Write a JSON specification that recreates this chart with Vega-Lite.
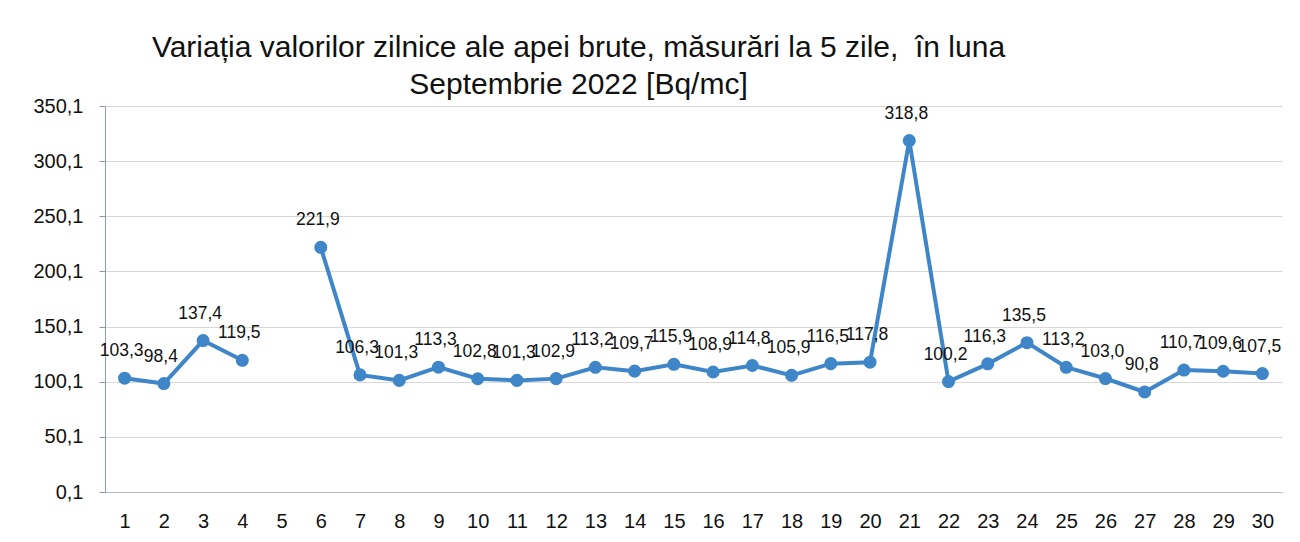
{
  "$schema": "https://vega.github.io/schema/vega-lite/v6.json",
  "autosize": "none",
  "width": 1177,
  "height": 386,
  "padding": {"left": 105, "top": 106, "right": 18, "bottom": 50},
  "background": "white",
  "config": {
    "font": "Liberation Sans",
    "locale": {"number": {"decimal": ",", "thousands": ".", "grouping": [3], "currency": ["", ""]}},
    "view": {"stroke": null}
  },
  "title": {
    "text": ["Variația valorilor zilnice ale apei brute, măsurări la 5 zile, \u00a0în luna", "Septembrie 2022 [Bq/mc]"],
    "fontSize": 30,
    "fontWeight": "normal",
    "color": "#111",
    "anchor": "middle",
    "frame": "group",
    "dx": -115,
    "offset": -4,
    "lineHeight": 37
  },
  "data": {
    "values": [
      {"zi": 1, "valoare": 103.3},
      {"zi": 2, "valoare": 98.4},
      {"zi": 3, "valoare": 137.4},
      {"zi": 4, "valoare": 119.5},
      {"zi": 5, "valoare": null},
      {"zi": 6, "valoare": 221.9},
      {"zi": 7, "valoare": 106.3},
      {"zi": 8, "valoare": 101.3},
      {"zi": 9, "valoare": 113.3},
      {"zi": 10, "valoare": 102.8},
      {"zi": 11, "valoare": 101.3},
      {"zi": 12, "valoare": 102.9},
      {"zi": 13, "valoare": 113.2},
      {"zi": 14, "valoare": 109.7},
      {"zi": 15, "valoare": 115.9},
      {"zi": 16, "valoare": 108.9},
      {"zi": 17, "valoare": 114.8},
      {"zi": 18, "valoare": 105.9},
      {"zi": 19, "valoare": 116.5},
      {"zi": 20, "valoare": 117.8},
      {"zi": 21, "valoare": 318.8},
      {"zi": 22, "valoare": 100.2},
      {"zi": 23, "valoare": 116.3},
      {"zi": 24, "valoare": 135.5},
      {"zi": 25, "valoare": 113.2},
      {"zi": 26, "valoare": 103.0},
      {"zi": 27, "valoare": 90.8},
      {"zi": 28, "valoare": 110.7},
      {"zi": 29, "valoare": 109.6},
      {"zi": 30, "valoare": 107.5}
    ]
  },
  "encoding": {
    "x": {
      "field": "zi",
      "type": "ordinal",
      "scale": {"domain": [1,2,3,4,5,6,7,8,9,10,11,12,13,14,15,16,17,18,19,20,21,22,23,24,25,26,27,28,29,30], "paddingInner": 0, "paddingOuter": 0},
      "axis": {
        "title": null,
        "labelAngle": 0,
        "labelFontSize": 20,
        "labelColor": "#111",
        "labelPadding": 19,
        "domainColor": "#b8bfcc",
        "ticks": false,
        "grid": false
      }
    },
    "y": {
      "field": "valoare",
      "type": "quantitative",
      "scale": {"domain": [0.1, 350.1], "nice": false, "zero": false},
      "axis": {
        "title": null,
        "values": [0.1, 50.1, 100.1, 150.1, 200.1, 250.1, 300.1, 350.1],
        "format": ".1f",
        "labelFontSize": 20,
        "labelColor": "#111",
        "labelPadding": 16,
        "domainColor": "#8a9ab5",
        "tickColor": "#8a9ab5",
        "tickSize": 6,
        "gridColor": "#d9d9d9",
        "gridWidth": 1.2
      }
    }
  },
  "layer": [
    {
      "mark": {"type": "line", "color": "#3f86c8", "strokeWidth": 4, "invalid": "break-paths-show-domains"}
    },
    {
      "mark": {"type": "point", "filled": true, "color": "#3f86c8", "size": 170, "opacity": 1},
      "transform": [{"filter": "datum.valoare != null"}]
    },
    {
      "mark": {"type": "text", "fontSize": 17.5, "color": "#111", "dy": -27, "dx": -3},
      "transform": [{"filter": "datum.valoare != null"}],
      "encoding": {"text": {"field": "valoare", "type": "quantitative", "format": ".1f"}}
    }
  ]
}
